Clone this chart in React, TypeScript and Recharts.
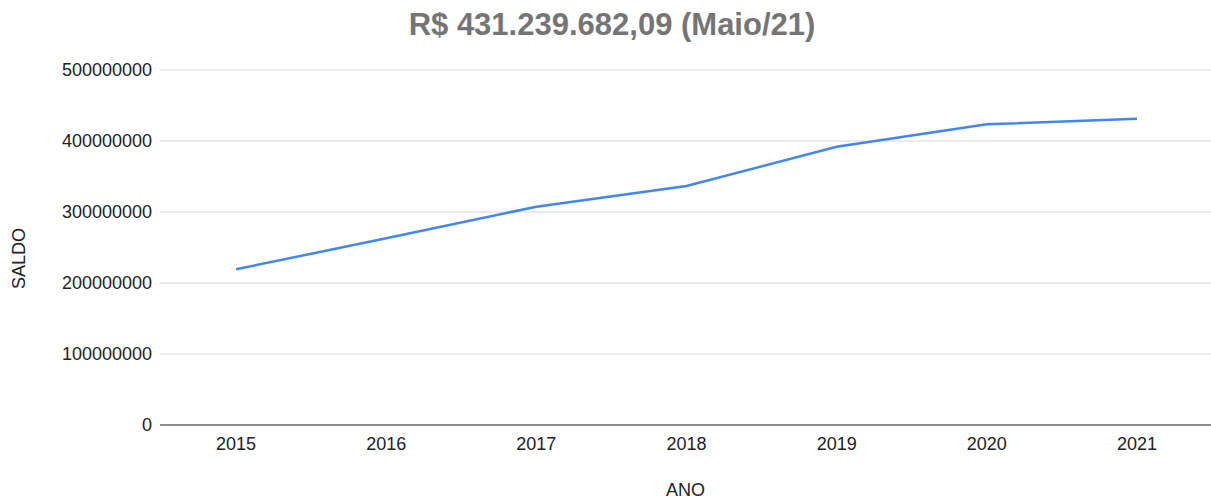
import { LineChart, Line, XAxis, YAxis, CartesianGrid } from "recharts";

const anos = ["2015", "2016", "2017", "2018", "2019", "2020", "2021"];
const saldos = [219300000, 263000000, 307500000, 336600000, 392000000, 423500000, 431239682.09];
const yTicks = [0, 100000000, 200000000, 300000000, 400000000, 500000000];

const data = anos.map((ano, i) => ({ ano, saldo: saldos[i] }));

const FONT = "Arial, 'Liberation Sans', sans-serif";

// rotated "SALDO", slightly below the plot middle like the original
const SaldoLabel = (props: any) => {
  const vb = props.viewBox || {};
  const cx = vb.x + 19;
  const cy = vb.y + vb.height / 2 + 11;
  return (
    <text
      x={cx}
      y={cy}
      transform={`rotate(-90, ${cx}, ${cy})`}
      textAnchor="middle"
      dominantBaseline="central"
      fill="#222"
      fontSize={18}
      fontFamily={FONT}
    >
      SALDO
    </text>
  );
};

export default function App() {
  return (
    <div style={{ position: "absolute", left: 0, top: 0, width: 1211, height: 501, background: "#fff", fontFamily: FONT }}>
      <div
        style={{
          position: "absolute",
          left: 0,
          top: 7,
          width: 1224,
          textAlign: "center",
          fontSize: 31,
          fontWeight: "bold",
          color: "#757575",
          lineHeight: "36px",
        }}
      >
        R$ 431.239.682,09 (Maio/21)
      </div>
      <LineChart width={1211} height={501} data={data} margin={{ top: 70, right: 0, left: 0, bottom: 0 }}>
        <CartesianGrid vertical={false} stroke="#d6d6d6" strokeWidth={1} />
        <XAxis
          dataKey="ano"
          height={76}
          padding={{ left: 76, right: 74 }}
          tickLine={false}
          axisLine={{ stroke: "#333", strokeWidth: 1 }}
          tickMargin={6}
          tick={{ fill: "#222", fontSize: 18, fontFamily: FONT }}
          label={{ value: "ANO", position: "insideBottom", offset: 5, fill: "#222", fontSize: 18, fontFamily: FONT }}
        />
        <YAxis
          width={160}
          domain={[0, 500000000]}
          ticks={yTicks}
          tickFormatter={(v: number) => String(v)}
          tickLine={false}
          axisLine={false}
          tick={{ fill: "#222", fontSize: 18, fontFamily: FONT }}
          label={{ content: SaldoLabel }}
        />
        <Line
          type="linear"
          dataKey="saldo"
          stroke="#4285f4"
          strokeWidth={2.5}
          dot={false}
          isAnimationActive={false}
        />
      </LineChart>
    </div>
  );
}
